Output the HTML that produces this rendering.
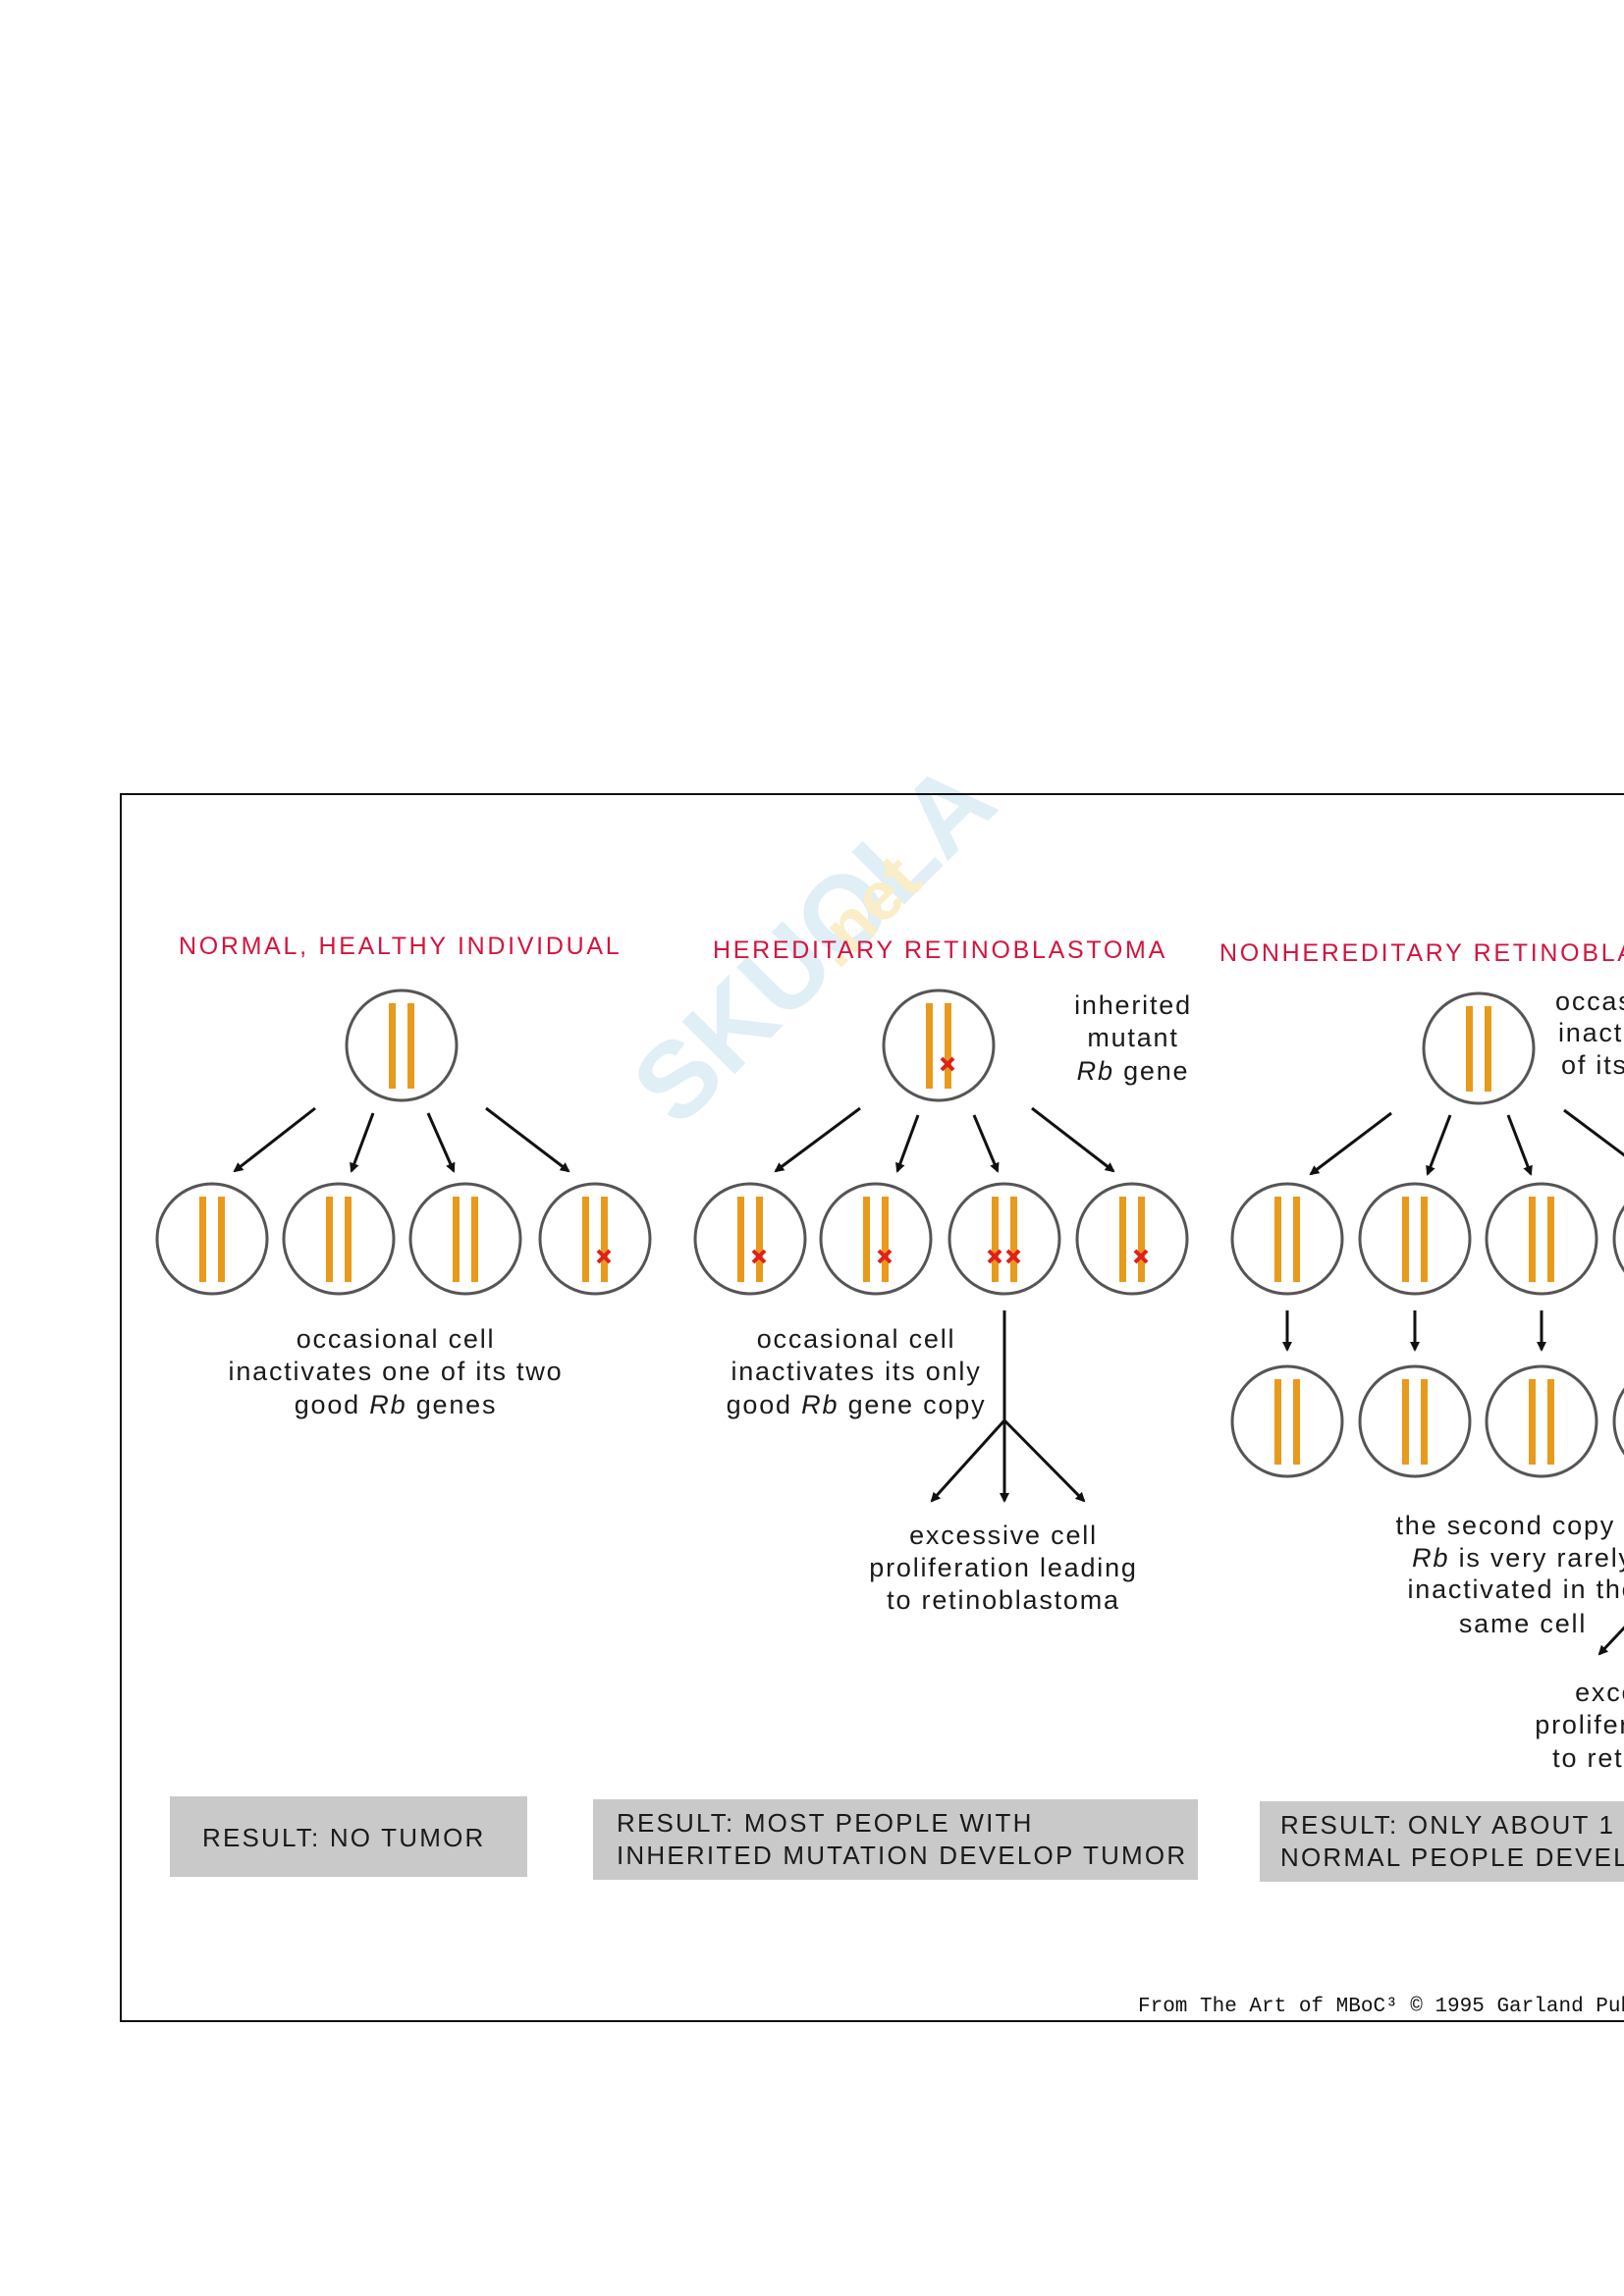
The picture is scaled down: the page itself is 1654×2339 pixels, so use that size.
<!DOCTYPE html>
<html><head><meta charset="utf-8"><style>
html,body{margin:0;padding:0;background:#fff;}
svg{display:block;}
text{font-family:"Liberation Sans",Arial,sans-serif;}
</style></head><body>
<svg width="1654" height="2339" viewBox="0 0 1654 2339" xmlns="http://www.w3.org/2000/svg">
<defs>
<marker id="ah" markerWidth="10" markerHeight="10" refX="8" refY="5" orient="auto" markerUnits="userSpaceOnUse">
<path d="M0,0 L10,5 L0,10 z" fill="#111"/>
</marker>
<g id="cell">
<circle cx="0" cy="0" r="56" fill="#fff" stroke="#555" stroke-width="3"/>
<rect x="-13" y="-43" width="7" height="87" fill="#e89a1c"/>
<rect x="6" y="-43" width="7" height="87" fill="#e89a1c"/>
</g>
<g id="x"><path d="M-6,-6 L6,6 M6,-6 L-6,6" stroke="#e0201a" stroke-width="4"/></g>
</defs>

<!-- watermark -->
<g transform="translate(790,1010) rotate(-45)" opacity="0.35">
<text x="-170" y="30" font-size="110" font-weight="bold" fill="#a8cfe8">SKUOLA</text>
<text x="60" y="30" font-size="70" font-weight="bold" fill="#f0d060">.net</text>
</g>

<rect x="123" y="809" width="1600" height="1250" fill="none" stroke="#111" stroke-width="2"/>

<g font-size="25" fill="#d4143e" letter-spacing="2.7">
<text x="182" y="972">NORMAL, HEALTHY INDIVIDUAL</text>
<text x="726" y="976">HEREDITARY RETINOBLASTOMA</text>
<text x="1242" y="979">NONHEREDITARY RETINOBLASTOMA</text>
</g>

<use href="#cell" x="409" y="1065"/>
<use href="#cell" x="956" y="1065"/>
<use href="#x" x="965" y="1084"/>
<use href="#cell" x="1506" y="1068"/>

<use href="#cell" x="216" y="1262"/>
<use href="#cell" x="345" y="1262"/>
<use href="#cell" x="474" y="1262"/>
<use href="#cell" x="606" y="1262"/>
<use href="#x" x="615" y="1280"/>
<use href="#cell" x="764" y="1262"/>
<use href="#x" x="773" y="1280"/>
<use href="#cell" x="892" y="1262"/>
<use href="#x" x="901" y="1280"/>
<use href="#cell" x="1023" y="1262"/>
<use href="#x" x="1013" y="1280"/>
<use href="#x" x="1032" y="1280"/>
<use href="#cell" x="1153" y="1262"/>
<use href="#x" x="1162" y="1280"/>
<use href="#cell" x="1311" y="1262"/>
<use href="#cell" x="1441" y="1262"/>
<use href="#cell" x="1570" y="1262"/>
<use href="#cell" x="1700" y="1262"/>
<use href="#cell" x="1311" y="1448"/>
<use href="#cell" x="1441" y="1448"/>
<use href="#cell" x="1570" y="1448"/>
<use href="#cell" x="1700" y="1448"/>

<g stroke="#111" stroke-width="3" marker-end="url(#ah)" fill="none">
<line x1="321" y1="1129" x2="239" y2="1193"/>
<line x1="380" y1="1134" x2="358" y2="1193"/>
<line x1="436" y1="1134" x2="462" y2="1193"/>
<line x1="495" y1="1129" x2="579" y2="1193"/>
<line x1="876" y1="1129" x2="790" y2="1193"/>
<line x1="935" y1="1136" x2="914" y2="1193"/>
<line x1="992" y1="1136" x2="1016" y2="1193"/>
<line x1="1051" y1="1129" x2="1134" y2="1193"/>
<line x1="1417" y1="1134" x2="1335" y2="1196"/>
<line x1="1477" y1="1136" x2="1454" y2="1196"/>
<line x1="1536" y1="1136" x2="1559" y2="1196"/>
<line x1="1593" y1="1131" x2="1680" y2="1196"/>
<line x1="1311" y1="1335" x2="1311" y2="1375"/>
<line x1="1441" y1="1335" x2="1441" y2="1375"/>
<line x1="1570" y1="1335" x2="1570" y2="1375"/>
<line x1="1023" y1="1447" x2="949" y2="1529"/>
<line x1="1023" y1="1447" x2="1023" y2="1529"/>
<line x1="1023" y1="1447" x2="1104" y2="1529"/>
<line x1="1660" y1="1652" x2="1629" y2="1685"/>
</g>
<line x1="1023" y1="1335" x2="1023" y2="1448" stroke="#111" stroke-width="3"/>

<g font-size="27" fill="#1a1a1a" text-anchor="middle" letter-spacing="1.8">
<text x="1154" y="1033">inherited</text>
<text x="1154" y="1066">mutant</text>
<text x="1154" y="1100"><tspan font-style="italic">Rb</tspan> gene</text>
<text x="403" y="1373">occasional cell</text>
<text x="403" y="1406">inactivates one of its two</text>
<text x="403" y="1440">good <tspan font-style="italic">Rb</tspan> genes</text>
<text x="872" y="1373">occasional cell</text>
<text x="872" y="1406">inactivates its only</text>
<text x="872" y="1440">good <tspan font-style="italic">Rb</tspan> gene copy</text>
<text x="1022" y="1573">excessive cell</text>
<text x="1022" y="1606">proliferation leading</text>
<text x="1022" y="1639">to retinoblastoma</text>
<text x="1551" y="1563">the second copy of</text>
<text x="1551" y="1596"><tspan font-style="italic">Rb</tspan> is very rarely</text>
<text x="1551" y="1628">inactivated in the</text>
<text x="1551" y="1663">same cell</text>
<text x="1700" y="1733">excessive cell</text>
<text x="1700" y="1766">proliferation leading</text>
<text x="1700" y="1800">to retinoblastoma</text>
</g>
<g font-size="27" fill="#1a1a1a" letter-spacing="1.8">
<text x="1584" y="1029">occasional cell</text>
<text x="1587" y="1061">inactivates one</text>
<text x="1590" y="1094">of its two good</text>
</g>

<rect x="173" y="1830" width="364" height="82" fill="#c9c9c9"/>
<rect x="604" y="1833" width="616" height="82" fill="#c9c9c9"/>
<rect x="1283" y="1835" width="400" height="82" fill="#c9c9c9"/>
<g font-size="26" fill="#1a1a1a" letter-spacing="2.2">
<text x="206" y="1881">RESULT: NO TUMOR</text>
<text x="628" y="1866">RESULT: MOST PEOPLE WITH</text>
<text x="628" y="1899">INHERITED MUTATION DEVELOP TUMOR</text>
<text x="1304" y="1868">RESULT: ONLY ABOUT 1 IN 30,000</text>
<text x="1304" y="1901">NORMAL PEOPLE DEVELOP TUMOR</text>
</g>
<text x="1159" y="2049" font-size="21" fill="#111" style="font-family:'Liberation Mono',monospace">From The Art of MBoC³ © 1995 Garland Publishing</text>
</svg>
</body></html>
